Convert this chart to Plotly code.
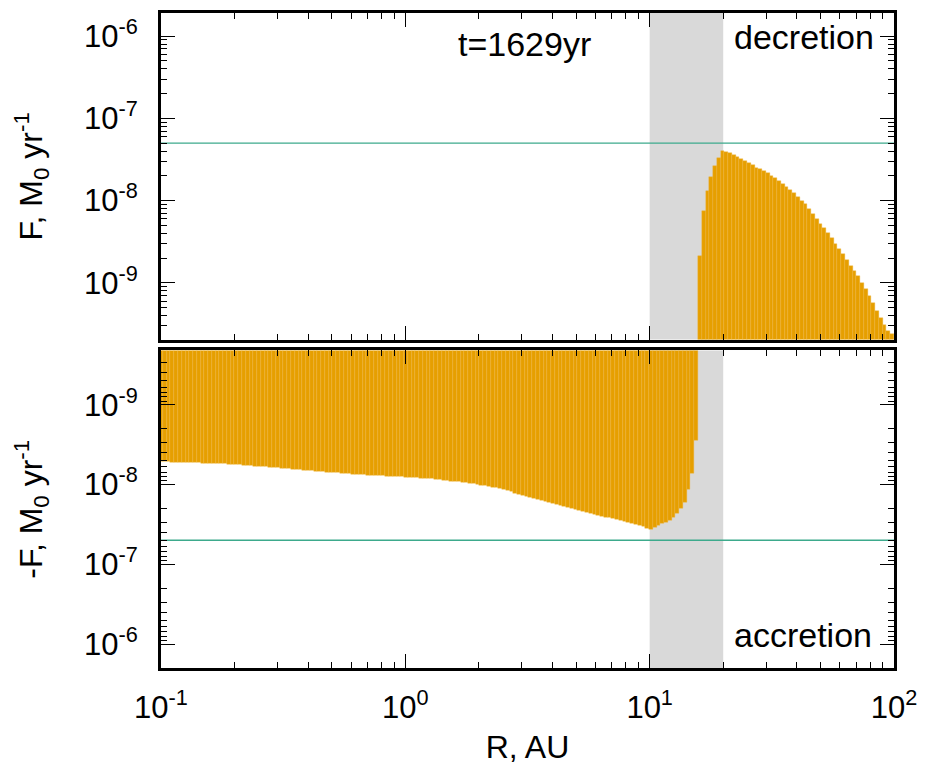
import numpy as np
import plotly.graph_objects as go

# Radial grid: uniform in log R, one bar per cell
R_MIN_LOG = -1.0
N_CELLS = 195
DLOG = 3.0 / 194.5
cell_log_r = R_MIN_LOG + DLOG * np.arange(N_CELLS)
cell_left = 10.0 ** (cell_log_r - DLOG / 2)
cell_right = 10.0 ** (cell_log_r + DLOG / 2)

# Mass flux through each cell, in units of 1e-9 M0/yr
# inner cells (accretion, F < 0): values of -F
accretion_1e9 = [
    5.16, 5.18, 5.20, 5.22, 5.23, 5.25, 5.27, 5.29, 5.31, 5.33,
    5.35, 5.37, 5.39, 5.40, 5.42, 5.44, 5.48, 5.52, 5.56, 5.60,
    5.64, 5.68, 5.72, 5.76, 5.81, 5.86, 5.91, 5.96, 6.02, 6.07,
    6.13, 6.18, 6.24, 6.30, 6.36, 6.42, 6.48, 6.54, 6.60, 6.67,
    6.73, 6.80, 6.86, 6.92, 6.98, 7.04, 7.10, 7.16, 7.22, 7.28,
    7.35, 7.40, 7.45, 7.50, 7.55, 7.60, 7.65, 7.70, 7.75, 7.80,
    7.84, 7.88, 7.93, 7.97, 8.01, 8.06, 8.10, 8.15, 8.20, 8.28,
    8.35, 8.44, 8.52, 8.61, 8.71, 8.81, 8.92, 9.03, 9.15, 9.27,
    9.40, 9.54, 9.68, 9.83, 10.0, 10.17, 10.36, 10.56, 10.78, 11.0,
    11.3, 11.65, 12.0, 12.4, 12.8, 13.2, 13.6, 14.0, 14.4, 14.8,
    15.25, 15.7, 16.2, 16.7, 17.25, 17.8, 18.4, 19.0, 19.6, 20.1,
    20.7, 21.2, 21.8, 22.4, 23.0, 23.7, 24.3, 25.0, 25.6, 26.2,
    26.9, 27.6, 28.3, 29.0, 29.7, 30.5, 31.6, 32.8, 34.0, 35.2,
    36.2, 34.5, 33.0, 31.0, 29.5, 28.0, 26.0, 23.0, 20.0, 17.0,
    11.5, 7.2, 2.8,
]
# outer cells (decretion, F > 0)
decretion_1e9 = [
    2.1, 7.4, 13.2, 19.1, 26.0, 32.8, 40.5, 38.5, 37.4, 36.1,
    34.1, 32.2, 30.5, 28.5, 26.7, 25.0, 24.4, 22.9, 21.5, 20.1,
    18.9, 17.4, 16.0, 14.7, 13.5, 12.3, 11.1, 9.95, 8.95, 7.83,
    6.87, 6.01, 5.25, 4.57, 3.98, 3.47, 2.95, 2.57, 2.21, 1.91,
    1.62, 1.40, 1.20, 1.00, 0.84, 0.70, 0.56, 0.45, 0.37, 0.31,
    0.26, 0.24,
]

n_acc = len(accretion_1e9)
acc_left, acc_right = cell_left[:n_acc], cell_right[:n_acc]
dec_left, dec_right = cell_left[n_acc:], cell_right[n_acc:]
f_acc = np.array(accretion_1e9) * 1e-9
f_dec = np.array(decretion_1e9) * 1e-9

# reference flux level and shaded zone
F_REF = 5e-8
ZONE_R = (10.0, 20.0)
TIME_LABEL = "t=1629yr"

BAR_COLOR = "#e69f00"
SEAM_COLOR = "#f0b640"
REF_COLOR = "#3daa8c"
ZONE_COLOR = "#d9d9d9"
FONT = "Liberation Sans, Arial, sans-serif"
TICK_SIZE = 31
TEXT_SIZE = 34
TITLE_SIZE = 32

decades = [1e-9, 1e-8, 1e-7, 1e-6]
decade_text = ["10<sup>-9</sup>", "10<sup>-8</sup>", "10<sup>-7</sup>", "10<sup>-6</sup>"]
x_decades = [0.1, 1, 10, 100]
x_decade_text = ["10<sup>-1</sup>", "10<sup>0</sup>", "10<sup>1</sup>", "10<sup>2</sup>"]
y_minor = [m * 10.0 ** e for e in range(-11, -4) for m in range(2, 10)]
x_minor = [m * 10.0 ** e for e in range(-2, 3) for m in range(2, 10)]

fig = go.Figure()

bar_marker = dict(color=BAR_COLOR, line=dict(color=SEAM_COLOR, width=0.4))
fig.add_trace(go.Bar(x=dec_left, width=dec_right - dec_left, offset=0, y=f_dec, base=1e-13,
                     xaxis="x", yaxis="y", marker=bar_marker, showlegend=False))
fig.add_trace(go.Bar(x=acc_left, width=acc_right - acc_left, offset=0, y=f_acc, base=1e-13,
                     xaxis="x2", yaxis="y2", marker=bar_marker, showlegend=False))

for xa, ya in (("x", "y"), ("x2", "y2")):
    fig.add_trace(go.Scatter(x=[0.1, 100], y=[F_REF, F_REF], xaxis=xa, yaxis=ya,
                             mode="lines", line=dict(color=REF_COLOR, width=1.3),
                             showlegend=False, hoverinfo="skip"))
    fig.add_shape(type="rect", xref=xa, yref=f"{ya} domain",
                  x0=ZONE_R[0], x1=ZONE_R[1], y0=0, y1=1,
                  fillcolor=ZONE_COLOR, line=dict(width=0), layer="below")

common_x = dict(type="log", range=[-1, 2], showline=True, linewidth=3, linecolor="black",
                mirror="allticks", ticks="inside", ticklen=14, tickwidth=1.2, tickcolor="black",
                tickmode="array", tickvals=x_decades, showgrid=False, zeroline=False,
                minor=dict(tickmode="array", tickvals=x_minor, ticks="inside", ticklen=6,
                           tickwidth=1.2, tickcolor="black", showgrid=False))
common_y = dict(type="log", showline=True, linewidth=3, linecolor="black",
                mirror="allticks", ticks="inside", ticklen=14, tickwidth=1.2, tickcolor="black",
                tickmode="array", tickvals=decades, ticktext=decade_text,
                showgrid=False, zeroline=False, ticklabelstandoff=14,
                tickfont=dict(size=TICK_SIZE, color="black", family=FONT),
                title=dict(font=dict(size=TITLE_SIZE, color="black", family=FONT), standoff=32),
                minor=dict(tickmode="array", tickvals=y_minor, ticks="inside", ticklen=6,
                           tickwidth=1.2, tickcolor="black", showgrid=False))

fig.update_layout(
    width=927, height=774,
    margin=dict(l=161, r=30, t=10, b=106),
    paper_bgcolor="white", plot_bgcolor="rgba(0,0,0,0)",
    bargap=0, barmode="overlay",
    font=dict(family=FONT, color="black"),
    xaxis=dict(common_x, anchor="y", domain=[0, 1], showticklabels=False, matches="x2"),
    yaxis=dict(common_y, anchor="x", domain=[0.5015, 1.0], range=[-9.69, -5.72],
               title_text="F, M<sub>0</sub> yr<sup>-1</sup>"),
    xaxis2=dict(common_x, anchor="y2", domain=[0, 1], ticktext=x_decade_text,
                tickfont=dict(size=TICK_SIZE, color="black", family=FONT), ticklabelstandoff=10,
                title=dict(text="R, AU", font=dict(size=TITLE_SIZE, color="black", family=FONT),
                           standoff=12)),
    yaxis2=dict(common_y, anchor="x2", domain=[0.0, 0.4848], range=[-5.70, -9.68],
                title_text="-F, M<sub>0</sub> yr<sup>-1</sup>"),
)

text_font = dict(size=TEXT_SIZE, color="black", family=FONT)
fig.add_annotation(text=TIME_LABEL, xref="x domain", yref="y domain", x=0.496, y=0.905,
                   xanchor="center", yanchor="middle", showarrow=False, font=text_font)
fig.add_annotation(text="decretion", xref="x domain", yref="y domain", x=0.976, y=0.925,
                   xanchor="right", yanchor="middle", showarrow=False, font=text_font)
fig.add_annotation(text="accretion", xref="x2 domain", yref="y2 domain", x=0.973, y=0.103,
                   xanchor="right", yanchor="middle", showarrow=False, font=text_font)

fig.write_html("out.html")
